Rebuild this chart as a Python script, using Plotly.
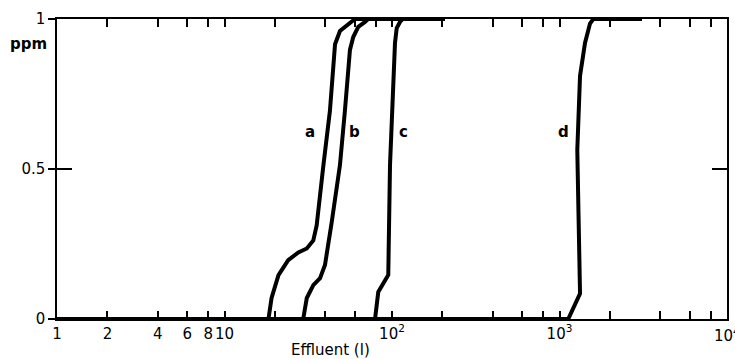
import plotly.graph_objects as go
import math

# Breakthrough curves (effluent volume in litres, concentration in ppm)
a_x = [1, 18.3, 19.1, 21.0, 24.0, 27.6, 31.0, 33.9, 35.5, 38.1, 38.9, 42.6, 44.6, 45.7, 48.9, 54.8, 60.1, 207]
a_y = [0, 0, 0.07, 0.146, 0.196, 0.222, 0.235, 0.262, 0.312, 0.445, 0.51, 0.694, 0.86, 0.916, 0.96, 0.984, 1.0, 1.0]

b_x = [1, 29.5, 31.0, 33.9, 37.2, 39.8, 43.7, 48.9, 52.4, 56.1, 58.7, 62.9, 69.0, 72.0, 207]
b_y = [0, 0, 0.07, 0.113, 0.136, 0.18, 0.324, 0.513, 0.697, 0.897, 0.94, 0.974, 0.99, 1.0, 1.0]

c_x = [1, 79.2, 82.8, 90.8, 95.0, 97.3, 104.2, 106.7, 111.6, 116.0, 207]
c_y = [0, 0, 0.09, 0.13, 0.147, 0.513, 0.92, 0.97, 0.99, 1.0, 1.0]

d_x = [1, 1128, 1326, 1313, 1277, 1326, 1420, 1521, 1592, 3108]
d_y = [0, 0, 0.085, 0.25, 0.563, 0.81, 0.92, 0.985, 1.0, 1.0]

curve_names = ["a", "b", "c", "d"]
label_x = [32.6, 60.1, 116.4, 1050]
label_y = [0.623, 0.623, 0.623, 0.623]

x_tickvals = [1, 2, 4, 6, 8, 10, 20, 40, 60, 80, 100, 200, 400, 600, 800,
              1000, 2000, 4000, 6000, 8000, 10000]
x_ticktext = ["1", "2", "4", "6", "8", "10", "", "", "", "", "10<sup>2</sup>",
              "", "", "", "", "10<sup>3</sup>", "", "", "", "", ""]
edge_label_x = 10000
edge_label_text = "10<sup>4</sup>"
y_tickvals = [0, 0.5, 1]
y_ticktext = ["0", "0.5", "1"]

FONT = "DejaVu Sans"

fig = go.Figure()
for xs, ys in [(a_x, a_y), (b_x, b_y), (c_x, c_y), (d_x, d_y)]:
    fig.add_trace(go.Scatter(x=xs, y=ys, mode="lines",
                             line=dict(color="black", width=4),
                             showlegend=False, hoverinfo="skip"))

# invisible trace for the overlay axis carrying the 0.5 cross tick
fig.add_trace(go.Scatter(x=[1], y=[0], yaxis="y2", mode="markers",
                         marker=dict(opacity=0), showlegend=False, hoverinfo="skip"))

for name, lx, ly in zip(curve_names, label_x, label_y):
    fig.add_annotation(x=math.log10(lx), y=ly, text="<b>" + name + "</b>", showarrow=False,
                       font=dict(family=FONT, size=15, color="black"))

fig.add_annotation(x=-0.042, xref="paper", y=0.917, yref="paper", text="<b>ppm</b>",
                   showarrow=False, xanchor="center", yanchor="middle",
                   font=dict(family=FONT, size=15, color="black"))
fig.add_annotation(x=math.log10(42.7), xref="x", y=-0.103, yref="paper",
                   text="Effluent (l)", showarrow=False, yanchor="middle",
                   font=dict(family=FONT, size=15, color="black"))
fig.add_annotation(x=math.log10(edge_label_x), xref="x", y=-0.012, yref="paper",
                   text=edge_label_text, showarrow=False, xanchor="center", yanchor="top",
                   font=dict(family=FONT, size=15, color="black"))

fig.update_layout(
    width=735, height=359,
    margin=dict(l=57, r=8, t=19, b=40, autoexpand=False),
    paper_bgcolor="white", plot_bgcolor="white",
    font=dict(family=FONT, size=15, color="black"),
    xaxis=dict(type="log", range=[0, 4], tickvals=x_tickvals, ticktext=x_ticktext,
               ticks="inside", ticklen=8, tickwidth=1.5, tickcolor="black",
               mirror="ticks", showline=True, linecolor="black", linewidth=1.5,
               showgrid=False, zeroline=False, tickangle=0, automargin=False,
               tickfont=dict(family=FONT, size=15)),
    yaxis=dict(range=[0, 1], tickvals=y_tickvals, ticktext=y_ticktext,
               ticks="outside", ticklen=7, tickwidth=1.5, tickcolor="black",
               showline=True, mirror=True, linecolor="black", linewidth=1.5,
               showgrid=False, zeroline=False, automargin=False,
               tickfont=dict(family=FONT, size=15)),
    yaxis2=dict(range=[0, 1], overlaying="y", side="left", anchor="x",
                tickvals=[0.5], ticks="inside", ticklen=15, tickwidth=1.5,
                tickcolor="black", mirror="ticks", showticklabels=False,
                showline=False, showgrid=False, zeroline=False, automargin=False),
)

fig.write_html("out.html", config={"displayModeBar": False},
               post_script="document.body.style.margin='0';document.body.style.overflow='hidden';")
